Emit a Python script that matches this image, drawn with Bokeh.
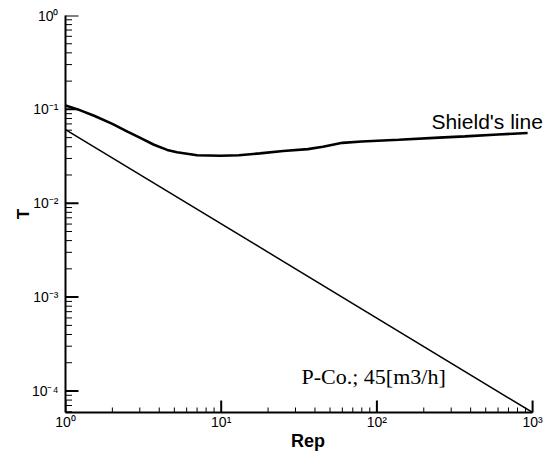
import math
from bokeh.plotting import figure
from bokeh.models import FixedTicker, CustomJSTickFormatter, Label, Range1d
from bokeh.embed import file_html
from bokeh.resources import INLINE

# Shield's line
rep_shields = [1, 1.2, 1.54, 2.0, 2.5, 3.0, 3.7, 4.5, 5.2, 7, 9.9, 13, 17.7, 25, 36, 45, 52, 60, 80, 138, 250, 367, 600, 929]
t_shields = [0.11, 0.1, 0.085, 0.07, 0.058, 0.05, 0.042, 0.037, 0.035, 0.0325, 0.032, 0.0325, 0.034, 0.036, 0.0377, 0.040, 0.042, 0.044, 0.0455, 0.0475, 0.050, 0.0516, 0.054, 0.056]

# P-Co.; 45[m3/h] line
rep_pco = [1, 1000]
t_pco = [0.061, 5.9e-5]

x_decades = [1, 10, 100, 1000]
y_decades = [1e-4, 1e-3, 1e-2, 1e-1, 1]

x_minor = [k * d for d in [1, 10, 100] for k in range(2, 10)]
y_minor = [k * d for d in [1e-5, 1e-4, 1e-3, 1e-2, 1e-1] for k in range(2, 10)]

FRAME_W = 485
X_MIN, X_AXIS_END = 1, 1000
X_VIEW_END = 10 ** (FRAME_W / 155.7)   # room to the right of 10^3 for the label text
Y_MIN, Y_MAX = 5.9e-5, 1

p = figure(frame_width=FRAME_W, frame_height=397, x_axis_type="log", y_axis_type="log",
           x_range=Range1d(X_MIN, X_VIEW_END), y_range=Range1d(Y_MIN, Y_MAX),
           output_backend="svg", toolbar_location=None,
           min_border_left=65, min_border_right=0, min_border_top=15, min_border_bottom=0)
p.outline_line_color = None
p.xgrid.visible = False
p.ygrid.visible = False
p.background_fill_color = "white"
p.border_fill_color = "white"

fmt = CustomJSTickFormatter(code="""
const sup = {"0":"\u2070","1":"\u00b9","2":"\u00b2","3":"\u00b3","4":"\u2074","5":"\u2075","-":"\u207b"};
const e = Math.round(Math.log10(tick));
return "10" + String(e).split("").map(c => sup[c]).join("");
""")

p.xaxis.ticker = FixedTicker(ticks=x_decades, minor_ticks=x_minor)
p.yaxis.ticker = FixedTicker(ticks=y_decades, minor_ticks=y_minor)
p.xaxis.bounds = (X_MIN, X_AXIS_END)
for ax in (p.xaxis[0], p.yaxis[0]):
    ax.formatter = fmt
    ax.axis_line_width = 2
    ax.axis_line_color = "black"
    ax.major_tick_out = 0
    ax.minor_tick_out = 0
    ax.major_tick_in = 0
    ax.minor_tick_in = 0
    ax.major_label_text_font = "Liberation Sans"
    ax.major_label_text_font_size = "14px"
    ax.major_label_text_color = "black"
    ax.axis_label_text_font = "Liberation Sans"
    ax.axis_label_text_font_style = "bold"
    ax.axis_label_text_color = "black"

p.xaxis.major_label_standoff = 1
p.yaxis.major_label_standoff = 7
p.xaxis.axis_label = "Rep"
p.yaxis.axis_label = "T"
p.xaxis.axis_label_text_font_size = "18px"
p.yaxis.axis_label_text_font_size = "17px"
p.xaxis.axis_label_standoff = -2
p.yaxis.axis_label_standoff = -4

# inward tick marks (dash markers centred on the frame edge; the outer half is clipped)
p.scatter(x_decades, [Y_MIN] * len(x_decades), marker="dash", size=24, angle=math.pi / 2,
          line_color="black", line_width=2)
p.scatter(x_minor, [Y_MIN] * len(x_minor), marker="dash", size=10, angle=math.pi / 2,
          line_color="black", line_width=1)
p.scatter([X_MIN] * len(y_decades), y_decades, marker="dash", size=26,
          line_color="black", line_width=2)
p.scatter([X_MIN] * len(y_minor), y_minor, marker="dash", size=13,
          line_color="black", line_width=1)

p.line(rep_shields, t_shields, line_color="black", line_width=2.6)
p.line(rep_pco, t_pco, line_color="black", line_width=1.5)

p.add_layout(Label(x=224, y=0.0737, text="Shield's line", text_font="Liberation Sans",
                   text_font_size="21px", text_color="black", text_baseline="alphabetic"))
p.add_layout(Label(x=32.8, y=1.41e-4, text="P-Co.; 45[m3/h]", text_font="Liberation Serif",
                   text_font_size="22px", text_color="black", text_baseline="alphabetic"))

open("out.html", "w").write(file_html(p, INLINE))
